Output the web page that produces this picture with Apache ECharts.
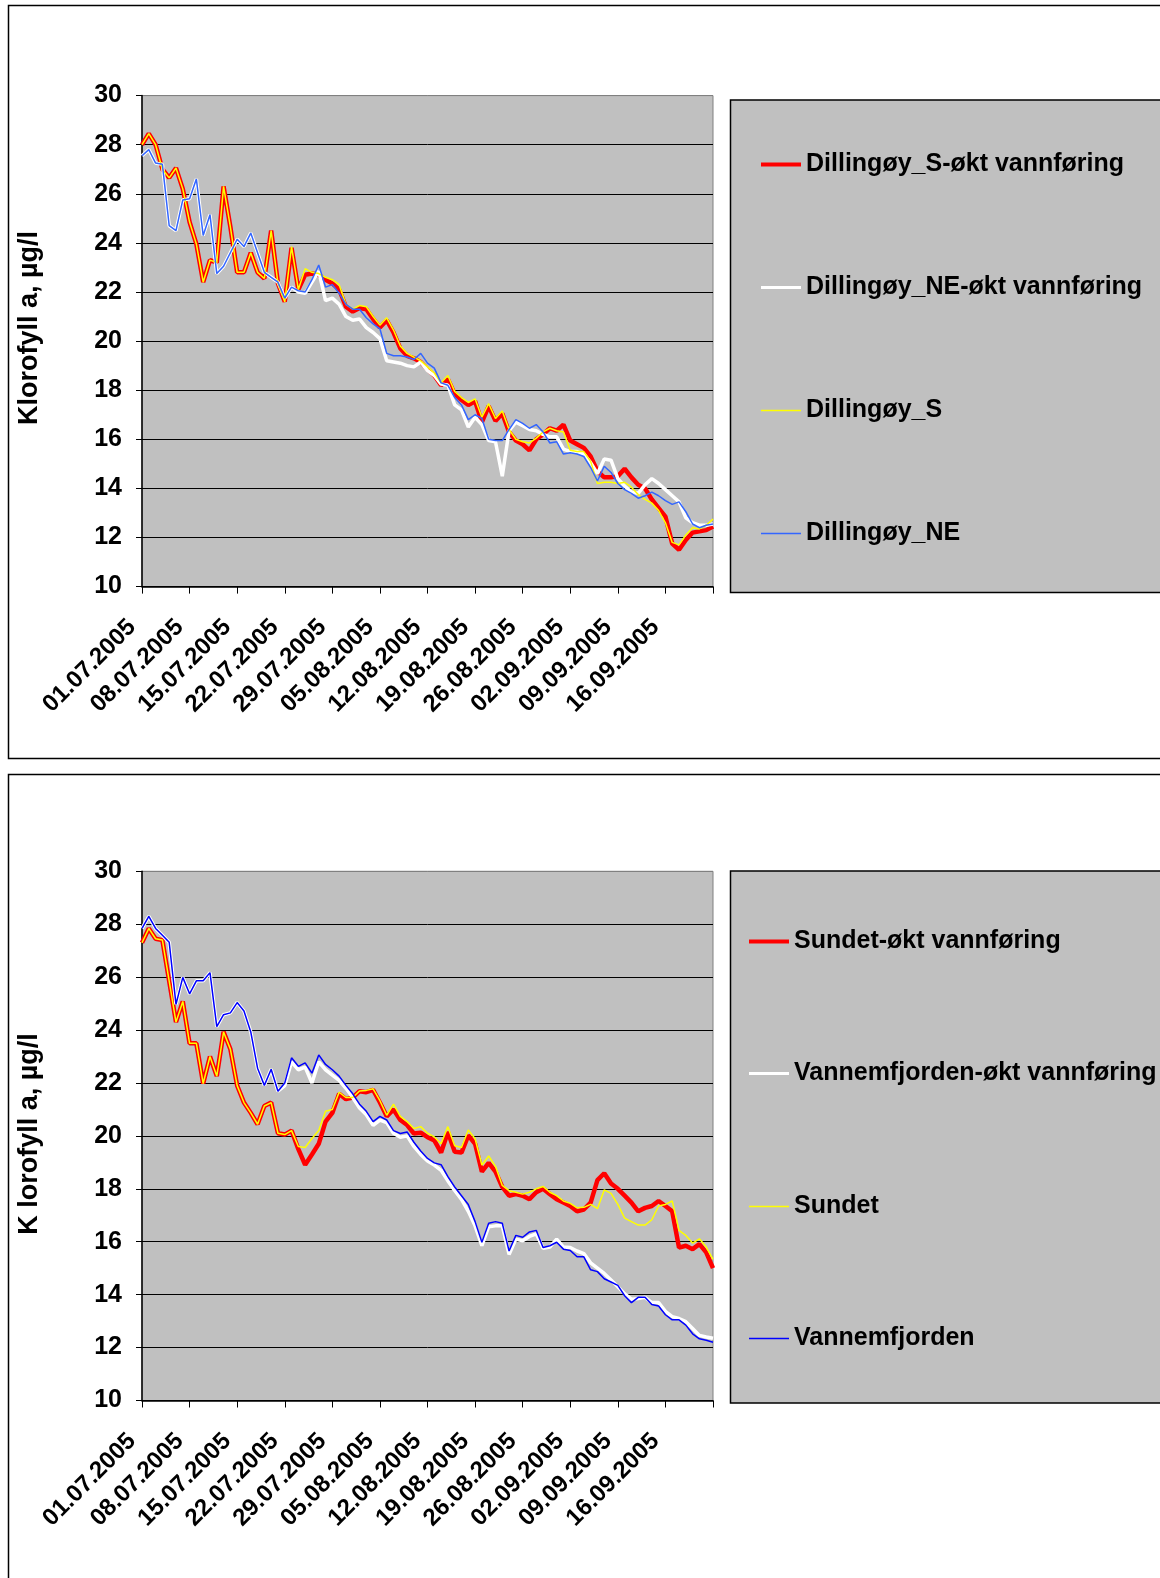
<!DOCTYPE html>
<html><head><meta charset="utf-8">
<script src="https://cdn.jsdelivr.net/npm/echarts/dist/echarts.min.js"></script>
<style>html,body{margin:0;padding:0;background:#fff}#c{width:1160px;height:1578px}</style>
</head><body><div id="c"></div>
<script>
// x categories: daily dates 01.07.2005 - 23.09.2005
const categories = [];
(function () {
  const start = Date.UTC(2005, 6, 1);
  for (let i = 0; i < 85; i++) {
    const d = new Date(start + i * 86400000);
    categories.push(String(d.getUTCDate()).padStart(2, '0') + '.' + String(d.getUTCMonth() + 1).padStart(2, '0') + '.' + d.getUTCFullYear());
  }
})();
const tickLabels = ['01.07.2005','08.07.2005','15.07.2005','22.07.2005','29.07.2005','05.08.2005','12.08.2005','19.08.2005','26.08.2005','02.09.2005','09.09.2005','16.09.2005'];
const yMin = 10, yMax = 30, yStep = 2;

// Top panel
const dillingoyS_okt = [28.0,28.45,28.0,27.0,26.65,27.05,26.2,24.85,23.95,22.4,
23.3,23.2,26.3,24.65,22.8,22.8,23.6,22.8,22.55,24.5,
22.35,21.6,23.8,22.1,22.7,22.75,22.7,22.5,22.35,22.1,
21.4,21.2,21.35,21.3,20.9,20.55,20.85,20.35,19.7,19.4,
19.3,19.15,18.85,18.6,18.2,18.45,17.85,17.6,17.4,17.55,
16.7,17.35,16.75,17.05,16.3,15.95,15.8,15.55,16.0,16.2,
16.45,16.35,16.6,15.95,15.8,15.65,15.3,14.7,14.45,14.45,
14.5,14.8,14.45,14.15,14.0,13.55,13.2,12.85,11.75,11.5,
11.9,12.2,12.25,12.3,12.45];
const dillingoyNE_okt = [27.55,27.8,27.25,27.2,24.7,24.5,25.75,25.8,26.6,24.3,
25.15,22.75,23.05,23.6,24.15,23.85,24.4,23.6,22.8,22.6,
22.4,21.75,22.2,22.0,21.95,22.4,22.85,21.65,21.75,21.5,
21.0,20.85,20.9,20.55,20.35,20.1,19.2,19.15,19.1,19.0,
18.95,19.15,18.8,18.6,18.25,18.2,17.4,17.2,16.5,16.9,
16.6,15.95,15.9,14.5,16.35,16.7,16.55,16.4,16.35,16.2,
16.1,16.1,15.6,15.5,15.5,15.4,15.05,14.6,15.2,15.15,
14.4,14.1,13.85,13.8,14.15,14.4,14.2,13.95,13.7,13.45,
12.8,12.6,12.5,12.5,12.55];
const dillingoyS = [28.0,28.45,28.0,27.0,26.65,27.05,26.2,24.85,23.95,22.4,
23.3,23.2,26.3,24.65,22.8,22.8,23.6,22.8,22.55,24.5,
22.35,21.6,23.85,22.1,22.95,22.8,22.75,22.6,22.5,22.3,
21.5,21.3,21.45,21.4,21.0,20.65,20.95,20.45,19.8,19.5,
19.35,19.2,18.95,18.7,18.3,18.6,17.95,17.7,17.5,17.65,
16.9,17.45,16.85,17.15,16.4,16.0,15.9,15.85,16.05,16.3,
16.45,16.35,16.3,15.55,15.5,15.5,15.1,14.2,14.25,14.25,
14.2,14.25,14.05,13.75,13.55,13.4,13.1,12.6,11.8,11.7,
12.1,12.4,12.35,12.5,12.75];
const dillingoyNE = [27.55,27.8,27.25,27.2,24.7,24.5,25.75,25.8,26.6,24.3,
25.15,22.75,23.05,23.6,24.15,23.85,24.4,23.6,22.8,22.6,
22.4,21.75,22.2,22.05,22.0,22.5,23.1,22.2,22.3,21.95,
21.5,21.3,21.3,20.95,20.7,20.5,19.5,19.4,19.4,19.35,
19.25,19.5,19.1,18.9,18.3,18.2,17.7,17.4,16.8,17.0,
16.85,16.0,15.95,15.95,16.4,16.8,16.65,16.45,16.6,16.3,
15.85,15.9,15.4,15.45,15.4,15.3,14.85,14.3,14.9,14.65,
14.2,13.95,13.8,13.6,13.7,13.85,13.7,13.5,13.35,13.45,
13.05,12.55,12.4,12.5,12.55];

// Bottom panel
const sundet_okt = [27.3,27.84,27.45,27.4,25.85,24.3,25.08,23.5,23.5,21.98,
23.0,22.26,23.93,23.28,21.9,21.26,20.87,20.44,21.13,21.26,
20.1,20.05,20.2,19.5,18.91,19.3,19.7,20.54,20.87,21.59,
21.39,21.45,21.69,21.65,21.74,21.26,20.74,21.0,20.6,20.41,
20.09,20.12,19.95,19.83,19.37,20.15,19.4,19.37,20.02,19.7,
18.65,18.98,18.65,18.07,17.74,17.8,17.74,17.61,17.87,18.0,
17.8,17.61,17.48,17.35,17.15,17.22,17.48,18.33,18.59,18.2,
18.0,17.74,17.48,17.15,17.28,17.35,17.54,17.35,17.15,15.78,
15.85,15.72,15.91,15.6,15.0];
const vannemfjorden_okt = [27.84,28.3,27.84,27.58,27.32,24.97,25.99,25.37,25.86,25.86,
26.17,24.13,24.58,24.65,25.04,24.72,23.93,22.56,21.91,22.52,
21.69,21.9,22.8,22.5,22.6,22.0,22.8,22.5,22.3,22.1,
21.8,21.45,21.05,20.8,20.4,20.6,20.5,20.1,19.95,20.0,
19.6,19.3,19.05,18.9,18.7,18.3,17.94,17.6,17.15,16.6,
15.85,16.57,16.6,16.6,15.52,16.1,16.04,16.2,16.3,15.75,
15.8,16.1,15.8,15.78,15.65,15.55,15.2,15.0,14.8,14.55,
14.3,14.03,13.83,13.85,13.9,13.7,13.7,13.37,13.17,13.1,
12.98,12.72,12.46,12.4,12.35];
const sundet = [27.3,27.84,27.45,27.4,25.85,24.3,25.08,23.5,23.5,21.98,
23.0,22.26,23.93,23.28,21.9,21.26,20.87,20.44,21.13,21.26,
20.1,20.05,20.2,19.6,19.56,19.9,20.2,20.93,21.0,21.65,
21.45,21.45,21.7,21.72,21.78,21.33,20.78,21.2,20.74,20.54,
20.28,20.35,20.1,19.96,19.7,20.35,19.63,19.56,20.22,19.89,
18.9,19.24,18.85,18.13,17.93,17.87,17.8,17.87,18.0,18.09,
17.87,17.74,17.54,17.45,17.28,17.3,17.41,17.25,17.96,17.83,
17.41,16.89,16.76,16.63,16.63,16.83,17.35,17.41,17.54,16.43,
16.24,15.95,16.11,15.8,15.33];
const vannemfjorden = [27.84,28.3,27.84,27.58,27.32,24.97,25.99,25.37,25.86,25.86,
26.17,24.13,24.58,24.65,25.04,24.72,23.93,22.56,21.91,22.52,
21.69,22.0,22.95,22.63,22.76,22.37,23.06,22.7,22.5,22.26,
21.91,21.59,21.2,20.93,20.54,20.74,20.6,20.2,20.09,20.15,
19.76,19.43,19.15,18.98,18.91,18.46,18.07,17.74,17.41,16.76,
15.98,16.7,16.76,16.7,15.65,16.24,16.17,16.37,16.43,15.78,
15.85,15.98,15.72,15.67,15.43,15.43,14.94,14.87,14.6,14.48,
14.35,13.96,13.7,13.9,13.9,13.63,13.57,13.24,13.05,13.05,
12.85,12.52,12.33,12.28,12.2];

const FONT = '"Liberation Sans", Arial, sans-serif';
const chart = echarts.init(document.getElementById('c'), null, {renderer: 'canvas'});

function xAxisDef(gi) {
  return {
    type: 'category', gridIndex: gi, data: categories, boundaryGap: false,
    axisLine: {show: true, lineStyle: {color: '#000', width: 1.5}},
    axisTick: {show: true, interval: (i) => i % 7 === 0, length: 7, lineStyle: {color: '#000', width: 1}},
    axisLabel: {
      interval: (i) => i % 7 === 0 && i < 84, rotate: 45, margin: 27, padding: [0, 14, 0, 0],
      color: '#000', fontSize: 24, fontWeight: 'bold', fontFamily: FONT,
      formatter: (v) => tickLabels.indexOf(v) >= 0 ? v : ''
    },
    splitLine: {show: false}
  };
}
function yAxisDef(gi) {
  const cols = [];
  for (let v = yMin; v <= yMax; v += yStep) cols.push(v === yMax ? '#808080' : '#000');
  return {
    type: 'value', gridIndex: gi, min: yMin, max: yMax, interval: yStep,
    axisLine: {show: true, lineStyle: {color: '#000', width: 1.5}},
    axisTick: {show: true, length: 6, lineStyle: {color: '#000'}},
    axisLabel: {color: '#000', fontSize: 25, fontWeight: 'bold', fontFamily: FONT, margin: 20},
    splitLine: {show: true, lineStyle: {color: cols, width: 1}}
  };
}
function line(name, data, color, width, gi) {
  return {
    name, type: 'line', data, xAxisIndex: gi, yAxisIndex: gi,
    symbol: 'none', showSymbol: false, smooth: false, silent: true,
    lineStyle: {color, width}, itemStyle: {color}
  };
}
const legendText = {color: '#000', fontSize: 25, fontWeight: 'bold', fontFamily: FONT};
function leg(name, left, top, thick, color) {
  return {data: [{name, icon: 'rect', itemStyle: {color, borderWidth: 0}}], left, top, orient: 'vertical',
    itemWidth: 40, itemHeight: thick, selectedMode: false, textStyle: legendText, padding: 0};
}

chart.setOption({
  animation: false,
  backgroundColor: '#fff',
  grid: [
    {left: 142, top: 95.6, width: 571, height: 491, show: true, backgroundColor: '#c0c0c0', borderColor: '#808080', borderWidth: 1, containLabel: false, outerBoundsMode: 'none'},
    {left: 142, top: 871.3, width: 571, height: 529.2, show: true, backgroundColor: '#c0c0c0', borderColor: '#808080', borderWidth: 1, containLabel: false, outerBoundsMode: 'none'}
  ],
  xAxis: [xAxisDef(0), xAxisDef(1)],
  yAxis: [yAxisDef(0), yAxisDef(1)],
  legend: [
    leg('Dillingøy_S-økt vannføring', 761, 152, 4, '#ff0000'),
    leg('Dillingøy_NE-økt vannføring', 761, 275, 3, '#ffffff'),
    leg('Dillingøy_S', 761, 398, 1.5, '#ffff00'),
    leg('Dillingøy_NE', 761, 521, 1.5, '#3366ff'),
    leg('Sundet-økt vannføring', 749, 929, 4, '#ff0000'),
    leg('Vannemfjorden-økt vannføring', 749, 1061, 3, '#ffffff'),
    leg('Sundet', 749, 1194, 1.5, '#ffff00'),
    leg('Vannemfjorden', 749, 1326, 1.5, '#0000ff')
  ],
  graphic: [
    {type: 'rect', z: -10, shape: {x: 8.5, y: 5.5, width: 1170, height: 753}, style: {fill: '#fff', stroke: '#000', lineWidth: 1.5}},
    {type: 'rect', z: -10, shape: {x: 8.5, y: 774.5, width: 1170, height: 820}, style: {fill: '#fff', stroke: '#000', lineWidth: 1.5}},
    {type: 'rect', z: -5, shape: {x: 730.5, y: 100, width: 450, height: 492.5}, style: {fill: '#c0c0c0', stroke: '#000', lineWidth: 1.5}},
    {type: 'rect', z: -5, shape: {x: 730.5, y: 871, width: 450, height: 532}, style: {fill: '#c0c0c0', stroke: '#000', lineWidth: 1.5}},
    {type: 'text', x: 30, y: 328, rotation: Math.PI / 2, style: {text: 'Klorofyll a, µg/l', fill: '#000', font: 'bold 27px ' + FONT, align: 'center', verticalAlign: 'middle'}},
    {type: 'text', x: 30, y: 1134, rotation: Math.PI / 2, style: {text: 'K lorofyll a, µg/l', fill: '#000', font: 'bold 27px ' + FONT, align: 'center', verticalAlign: 'middle'}}
  ],
  series: [
    line('Dillingøy_S-økt vannføring', dillingoyS_okt, '#ff0000', 4.5, 0),
    line('Dillingøy_NE-økt vannføring', dillingoyNE_okt, '#ffffff', 3.5, 0),
    line('Dillingøy_S', dillingoyS, '#ffff00', 1.5, 0),
    line('Dillingøy_NE', dillingoyNE, '#3366ff', 1.5, 0),
    line('Sundet-økt vannføring', sundet_okt, '#ff0000', 4.5, 1),
    line('Vannemfjorden-økt vannføring', vannemfjorden_okt, '#ffffff', 3.5, 1),
    line('Sundet', sundet, '#ffff00', 1.5, 1),
    line('Vannemfjorden', vannemfjorden, '#0000ff', 1.5, 1)
  ]
});
</script>
</body></html>
